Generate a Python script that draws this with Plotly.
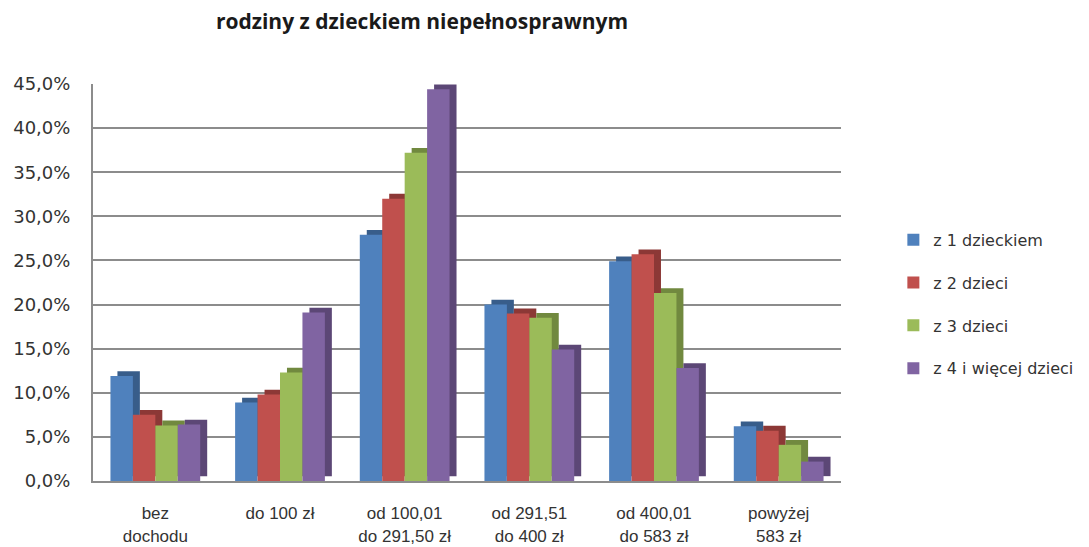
import plotly.graph_objects as go

categories = ["bez<br>dochodu", "do 100 zł", "od 100,01<br>do 291,50 zł", "od 291,51<br>do 400 zł", "od 400,01<br>do 583 zł", "powyżej<br>583 zł"]
series_names = ["z 1 dzieckiem", "z 2 dzieci", "z 3 dzieci", "z 4 i więcej dzieci"]
z1 = [0.119, 0.089, 0.279, 0.200, 0.249, 0.062]
z2 = [0.075, 0.098, 0.320, 0.190, 0.257, 0.057]
z3 = [0.063, 0.123, 0.372, 0.185, 0.213, 0.041]
z4 = [0.064, 0.191, 0.444, 0.149, 0.128, 0.022]
colors = ["#4F81BD", "#C0504D", "#9BBB59", "#8064A2"]
side_colors = ["#385D8A", "#8C3836", "#71893F", "#5C4776"]

all_vals = [z1, z2, z3, z4]
bar_w = 0.18
depth_x = 0.056
depth_y = 0.0055

fig = go.Figure()
# darker "side" of each bar, giving a 3D look like the original
for i, vals in enumerate(all_vals):
    fig.add_trace(go.Bar(
        x=categories, y=vals, base=depth_y, width=bar_w,
        offset=-2 * bar_w + i * bar_w + depth_x,
        marker=dict(color=side_colors[i], line=dict(width=0)),
        showlegend=False, hoverinfo="skip",
    ))
for i, (name, vals) in enumerate(zip(series_names, all_vals)):
    fig.add_trace(go.Bar(
        x=categories, y=vals, name=name, legendgroup=name, width=bar_w,
        offset=-2 * bar_w + i * bar_w,
        marker=dict(color=colors[i], line=dict(width=0)),
        hoverinfo="skip",
    ))

fig.update_layout(
    width=1081, height=539,
    paper_bgcolor="white", plot_bgcolor="white",
    separators=", ",
    barmode="group",
    margin=dict(l=85, r=248, t=76, b=66, autoexpand=False),
    title=dict(text="<b>rodziny z dzieckiem niepełnosprawnym</b>",
               x=0.383, xanchor="center", y=0.974, yanchor="middle",
               font=dict(family="Open Sans", size=21, color="#1a1a1a")),
    font=dict(family="DejaVu Sans", color="#333333"),
    legend=dict(x=1.07, xanchor="left", y=0.445, yanchor="middle",
                font=dict(family="DejaVu Sans", size=16, color="#333333"),
                tracegroupgap=19, itemwidth=30),
    showlegend=True,
)
fig.update_yaxes(range=[0, 0.45], dtick=0.05, tickformat=".1%",
                 showgrid=True, gridcolor="#8c8c8c", gridwidth=2,
                 showline=True, linecolor="#8c8c8c", linewidth=2,
                 ticks="", ticklabelstandoff=17, automargin=False,
                 tickfont=dict(family="DejaVu Sans", size=18, color="#333333"),
                 zeroline=False)
fig.update_xaxes(showline=True, linecolor="#8c8c8c", linewidth=2,
                 ticks="", tickangle=0, ticklabelstandoff=16, automargin=False,
                 tickfont=dict(family="Liberation Sans Narrow, Liberation Sans", size=17, color="#333333"))

fig.write_html("out.html")
